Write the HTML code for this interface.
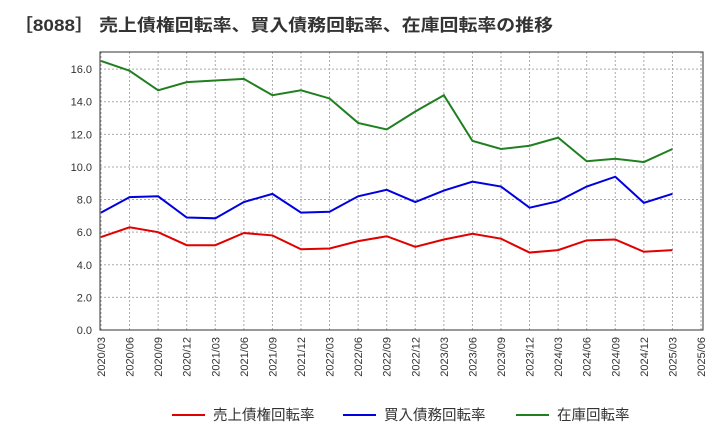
<!DOCTYPE html>
<html><head><meta charset="utf-8"><style>
body{margin:0;background:#fff;width:720px;height:440px;overflow:hidden;font-family:"Liberation Sans","Noto Sans CJK JP",sans-serif}
</style></head><body>
<svg id="c" width="720" height="440" xmlns="http://www.w3.org/2000/svg">
<text x="14" y="31" font-size="17" font-weight="bold" fill="#333" textLength="539" lengthAdjust="spacingAndGlyphs" font-family="Liberation Sans, Noto Sans CJK JP, sans-serif">［8088］ 売上債権回転率、買入債務回転率、在庫回転率の推移</text>
</svg>
<script>
const categories=["2020/03","2020/06","2020/09","2020/12","2021/03","2021/06","2021/09","2021/12","2022/03","2022/06","2022/09","2022/12","2023/03","2023/06","2023/09","2023/12","2024/03","2024/06","2024/09","2024/12","2025/03","2025/06"];
const receivables=[5.7,6.3,6.0,5.2,5.2,5.95,5.8,4.95,5.0,5.45,5.75,5.1,5.55,5.9,5.6,4.75,4.9,5.5,5.55,4.8,4.9];
const payables=[7.2,8.15,8.2,6.9,6.85,7.85,8.35,7.2,7.25,8.2,8.6,7.85,8.55,9.1,8.8,7.5,7.9,8.8,9.4,7.8,8.35];
const inventory=[16.5,15.9,14.7,15.2,15.3,15.4,14.4,14.7,14.2,12.7,12.3,13.4,14.4,11.6,11.1,11.3,11.8,10.35,10.5,10.3,11.1];
const yTicks=[0,2,4,6,8,10,12,14,16];
const seriesNames=["売上債権回転率","買入債務回転率","在庫回転率"];
const L=100,R=703,T=52,B=330,YMAX=17.05;
const ns="http://www.w3.org/2000/svg",svg=document.getElementById('c');
const xs=i=>101+i*(701-101)/(categories.length-1);
const y=v=>B-v/YMAX*(B-T);
function mk(t,a,p){const e=document.createElementNS(ns,t);for(const k in a)e.setAttribute(k,a[k]);(p||svg).appendChild(e);return e;}
yTicks.forEach(v=>{
const g=mk('line',{x1:L,x2:R,y1:y(v),y2:y(v),stroke:'#aaa','stroke-dasharray':'2,2','stroke-width':1});


const t=mk('text',{x:L-8,y:y(v)+4,'text-anchor':'end','font-size':11,fill:'#333'});t.textContent=v.toFixed(1);


});
categories.forEach((c,i)=>{
const g=mk('line',{x1:xs(i),x2:xs(i),y1:T,y2:B,stroke:'#aaa','stroke-dasharray':'2,2','stroke-width':1});


const t=mk('text',{x:0,y:0,'text-anchor':'end','font-size':11,fill:'#333',transform:`translate(${xs(i)+4},${B+7}) rotate(-90)`});t.textContent=c;


});
const frame=mk('rect',{x:L,y:T,width:R-L,height:B-T,fill:'none',stroke:'#333','stroke-width':1});


const cols=['#e00000','#0000e0','#208020'];
[receivables,payables,inventory].forEach((d,k)=>{
const p=mk('polyline',{points:d.map((v,i)=>xs(i)+','+y(v)).join(' '),fill:'none',stroke:cols[k],'stroke-width':2});


});
const lx=[172,343,516];
seriesNames.forEach((n,k)=>{
const g=mk('g',{});


mk('line',{x1:lx[k],x2:lx[k]+33,y1:415,y2:415,stroke:cols[k],'stroke-width':2},g);
const t=mk('text',{x:lx[k]+41,y:420,'font-size':14.5,fill:'#333'},g);t.textContent=n;
});
</script>
</body></html>
